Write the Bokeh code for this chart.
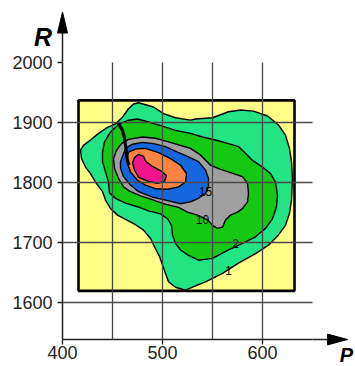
from bokeh.plotting import figure
from bokeh.models import FixedTicker, Range1d
from bokeh.embed import file_html
from bokeh.resources import INLINE
from bokeh.core.properties import value

# ---------------- data ----------------
X_TICKS = [400, 500, 600]
Y_TICKS = [1600, 1700, 1800, 1900, 2000]
X_GRID = [450, 500, 550, 600, 650]
Y_GRID = [1600, 1700, 1800, 1900, 2000]

# study area (yellow box)
BOX_P = [416, 632]
BOX_R = [1620, 1937]

# contour level 1 (outer, light green)
L1_P = [476, 491, 501, 513, 528, 533, 550, 566, 578, 591, 605, 616, 623, 627, 629, 630,
        629, 627, 623, 616, 606, 593, 576, 560, 543, 530, 523, 513, 506, 503, 500, 497,
        493, 488, 481, 473, 463, 455, 448, 443, 440, 433, 428, 423, 419, 418, 421, 428,
        436, 445, 453, 460, 466, 471]
L1_R = [1933, 1926, 1915, 1908, 1904, 1906, 1908, 1918, 1921, 1919, 1911, 1896, 1879, 1857, 1835, 1807,
        1771, 1749, 1729, 1713, 1696, 1682, 1666, 1649, 1635, 1626, 1621, 1626, 1635, 1649, 1663, 1677,
        1690, 1707, 1721, 1730, 1739, 1746, 1757, 1771, 1785, 1801, 1815, 1826, 1840, 1854, 1862, 1871,
        1882, 1892, 1898, 1909, 1923, 1931]

# contour level 2 (green)
L2_P = [466, 475, 486, 500, 513, 528, 540, 553, 566, 576, 583, 590, 600, 608, 613, 615,
        614, 610, 603, 593, 580, 566, 550, 536, 525, 518, 513, 510, 509, 505, 498, 486,
        475, 463, 453, 447, 446, 443, 440, 440, 442, 448, 456]
L2_R = [1904, 1906, 1901, 1894, 1887, 1882, 1876, 1871, 1865, 1860, 1849, 1837, 1826, 1815, 1801, 1779,
        1760, 1740, 1724, 1710, 1699, 1688, 1674, 1671, 1680, 1688, 1699, 1713, 1729, 1740, 1748, 1753,
        1760, 1766, 1774, 1783, 1801, 1818, 1835, 1851, 1868, 1884, 1897]

# contour level 10 (grey)
L10_P = [451, 454, 459, 466, 480, 493, 506, 520, 528, 538, 548, 558, 571, 580, 585, 586,
         585, 580, 575, 568, 563, 560, 555, 550, 545, 535, 525, 516, 503, 491, 478, 467,
         461, 456, 452]
L10_R = [1840, 1854, 1865, 1872, 1876, 1874, 1868, 1861, 1857, 1846, 1829, 1822, 1815, 1810, 1799, 1782,
         1768, 1757, 1751, 1746, 1738, 1726, 1724, 1729, 1738, 1746, 1751, 1759, 1764, 1771, 1778, 1786,
         1793, 1807, 1824]

# contour level 15 (blue)
L15_P = [458, 463, 470, 480, 491, 503, 515, 526, 536, 543, 546, 546, 543, 536, 528, 518,
         503, 490, 476, 468, 461, 458]
L15_R = [1835, 1857, 1864, 1867, 1865, 1860, 1851, 1843, 1835, 1821, 1807, 1793, 1782, 1774, 1768, 1765,
         1771, 1776, 1785, 1796, 1810, 1824]

# inner level (orange)
L20_P = [465, 466, 473, 483, 496, 508, 518, 524, 523, 516, 505, 493, 483, 475, 468, 465]
L20_R = [1843, 1851, 1856, 1857, 1850, 1840, 1829, 1815, 1801, 1793, 1789, 1790, 1796, 1804, 1818, 1832]

# innermost level (magenta)
L25_P = [472, 476, 481, 483, 490, 499, 504, 502, 495, 486, 476, 472, 470]
L25_R = [1842, 1847, 1844, 1836, 1827, 1819, 1812, 1802, 1799, 1802, 1809, 1821, 1833]

# thick black curve
CURVE_P = [455, 460, 462, 463.5, 464.5, 466.5]
CURVE_R = [1901, 1887, 1874, 1857, 1840, 1829]

# contour value labels
LABEL_TEXT = ["1", "2", "10", "15"]
LABEL_P = [566, 573, 540, 543]
LABEL_R = [1654, 1698, 1738, 1786]

FILLS = ["#22E482", "#14C814", "#A0A0A0", "#1466DC", "#FF8444", "#F0148C"]

# ---------------- view ----------------
P_START, P_END = 400, 650
R_START, R_END = 1539, 2000
# axis arrows (tips beyond the plotted area)
Y_ARROW_TIP, Y_ARROW_LEN, Y_ARROW_HALF = 2084, 35, 5
X_ARROW_TIP, X_ARROW_LEN, X_ARROW_HALF = 685, 20, 9

p = figure(width=355, height=366, output_backend="svg", toolbar_location=None,
           x_range=Range1d(P_START, P_END), y_range=Range1d(R_START, R_END),
           min_border_left=62, min_border_right=43, min_border_top=62, min_border_bottom=27)
p.outline_line_color = None
p.background_fill_color = "white"

# yellow box
p.quad(left=[BOX_P[0]], right=[BOX_P[1]], bottom=[BOX_R[0]], top=[BOX_R[1]],
       fill_color="#FFFF88", line_color=None)

xs = [L1_P, L2_P, L10_P, L15_P, L20_P, L25_P]
ys = [L1_R, L2_R, L10_R, L15_R, L20_R, L25_R]
p.patches(xs=xs, ys=ys, fill_color=FILLS, line_color="black", line_width=1.4)

p.line(CURVE_P, CURVE_R, line_color="black", line_width=3.2)

p.quad(left=[BOX_P[0]], right=[BOX_P[1]], bottom=[BOX_R[0]], top=[BOX_R[1]],
       fill_color=None, line_color="black", line_width=2.6)

p.text(x=LABEL_P, y=LABEL_R, text=LABEL_TEXT, text_font=value("Liberation Sans"),
       text_font_size="12px", text_align="center", text_baseline="middle", text_color="black")

# axis extensions and arrowheads (drawn outside the frame)
p.segment(x0=[P_START, P_END], y0=[R_END, R_START], x1=[P_START, X_ARROW_TIP - X_ARROW_LEN + 2],
          y1=[Y_ARROW_TIP - Y_ARROW_LEN + 3, R_START], line_color="#222222", line_width=1.5,
          level="overlay")
p.patch([P_START - Y_ARROW_HALF, P_START, P_START + Y_ARROW_HALF],
        [Y_ARROW_TIP - Y_ARROW_LEN, Y_ARROW_TIP, Y_ARROW_TIP - Y_ARROW_LEN],
        fill_color="black", line_color="black", line_width=1, level="overlay")
p.patch([X_ARROW_TIP - X_ARROW_LEN, X_ARROW_TIP, X_ARROW_TIP - X_ARROW_LEN],
        [R_START - X_ARROW_HALF, R_START, R_START + X_ARROW_HALF],
        fill_color="black", line_color="black", line_width=1, level="overlay")

# axis titles
p.text(x=[380.5], y=[2043], text=["R"], text_font=value("Liberation Sans"), text_font_size="25px",
       text_font_style="bold italic", text_align="center", text_baseline="middle",
       text_color="black", level="overlay")
p.text(x=[684], y=[1514], text=["P"], text_font=value("Liberation Sans"), text_font_size="20px",
       text_font_style="bold italic", text_align="center", text_baseline="middle",
       text_color="black", level="overlay")

# grids
p.xgrid.ticker = FixedTicker(ticks=X_GRID)
p.ygrid.ticker = FixedTicker(ticks=Y_GRID)
p.grid.grid_line_color = "#484848"
p.grid.grid_line_width = 1.3
p.grid.level = "overlay"

# axes
p.xaxis.ticker = FixedTicker(ticks=X_TICKS)
p.yaxis.ticker = FixedTicker(ticks=Y_TICKS)
p.axis.axis_line_color = "#222222"
p.axis.axis_line_width = 1.5
p.axis.minor_tick_line_color = None
p.axis.major_tick_out = 5
p.axis.major_tick_in = 0
p.axis.major_tick_line_color = "#222222"
p.axis.major_tick_line_width = 1.3
p.axis.major_label_text_font = "Liberation Sans"
p.axis.major_label_text_color = "#222222"
p.axis.major_label_text_font_size = "18px"
p.yaxis.major_label_standoff = 5
p.xaxis.major_label_standoff = 1

open("out.html", "w").write(file_html(p, INLINE))
